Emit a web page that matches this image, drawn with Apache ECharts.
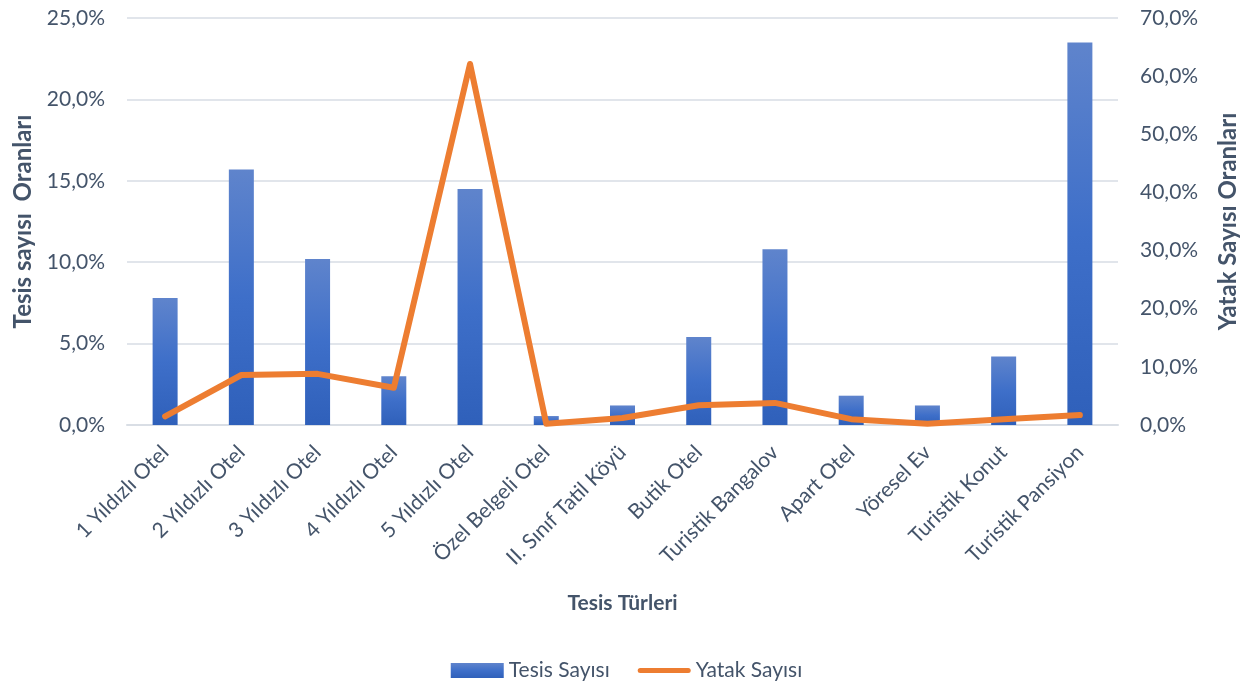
<!DOCTYPE html>
<html><head><meta charset="utf-8">
<script src="https://cdn.jsdelivr.net/npm/echarts@6/dist/echarts.min.js"></script>
<style>html,body{margin:0;padding:0;background:#fff}#c{width:1253px;height:688px}</style>
</head><body><div id="c"></div>
<script>
const categories = ['1 Yıldızlı Otel','2 Yıldızlı Otel','3 Yıldızlı Otel','4 Yıldızlı Otel','5 Yıldızlı Otel','Özel Belgeli Otel','II. Sınıf Tatil Köyü','Butik Otel','Turistik Bangalov','Apart Otel','Yöresel Ev','Turistik Konut','Turistik Pansiyon'];
const tesisSayisi = [7.8, 15.7, 10.2, 3.0, 14.5, 0.55, 1.2, 5.4, 10.8, 1.8, 1.2, 4.2, 23.5];
const yatakSayisi = [1.5, 8.6, 8.8, 6.4, 62.1, 0.2, 1.2, 3.4, 3.8, 1.0, 0.2, 1.0, 1.7];
const leftTicks = {min: 0, max: 25, interval: 5};
const rightTicks = {min: 0, max: 70, interval: 10};

const txt = '#44546A';
const font = "Lato, 'Open Sans', sans-serif";
const fmt = v => v.toFixed(1).replace('.', ',') + '%';
const chart = echarts.init(document.getElementById('c'));
chart.setOption({
  animation: false,
  textStyle: {fontFamily: font},
  grid: {left: 127, right: 135, top: 18, bottom: 263},
  legend: {
    bottom: 2, left: 'center', itemWidth: 53, itemHeight: 15, itemGap: 28,
    textStyle: {color: txt, fontSize: 21, fontFamily: font},
    data: [
      {name: 'Tesis Sayısı', icon: 'rect'},
      {name: 'Yatak Sayısı', icon: 'path://M2.5,0 L50.5,0 A2.5,2.5 0 0 1 50.5,5 L2.5,5 A2.5,2.5 0 0 1 2.5,0 Z'}
    ]
  },
  xAxis: {
    type: 'category', data: categories,
    axisTick: {show: false},
    axisLine: {lineStyle: {color: '#D9DEE5', width: 2}},
    axisLabel: {rotate: 45, color: txt, fontSize: 21, margin: 24, interval: 0},
    name: 'Tesis Türleri', nameLocation: 'middle', nameGap: 168,
    nameTextStyle: {color: txt, fontSize: 21, fontWeight: 'bold'}
  },
  yAxis: [{
    type: 'value', min: leftTicks.min, max: leftTicks.max, interval: leftTicks.interval,
    axisLine: {show: false}, axisTick: {show: false},
    splitLine: {lineStyle: {color: '#E1E5EB', width: 2}},
    axisLabel: {formatter: fmt, color: txt, fontSize: 21, margin: 22},
    name: 'Tesis sayısı  Oranları', nameLocation: 'middle', nameGap: 92, nameRotate: 90,
    nameTextStyle: {color: txt, fontSize: 24, fontWeight: 'bold'}
  }, {
    type: 'value', min: rightTicks.min, max: rightTicks.max, interval: rightTicks.interval,
    axisLine: {show: false}, axisTick: {show: false},
    splitLine: {show: false},
    axisLabel: {formatter: fmt, color: txt, fontSize: 21, margin: 22},
    name: 'Yatak Sayısı Oranları', nameLocation: 'middle', nameGap: 98, nameRotate: 90,
    nameTextStyle: {color: txt, fontSize: 24, fontWeight: 'bold'}
  }],
  series: [{
    name: 'Tesis Sayısı', type: 'bar', data: tesisSayisi, yAxisIndex: 0, barWidth: 25,
    itemStyle: {color: new echarts.graphic.LinearGradient(0, 0, 0, 1, [
      {offset: 0, color: '#5F84CC'}, {offset: 0.5, color: '#3E6FC9'}, {offset: 1, color: '#2F60BA'}])}
  }, {
    name: 'Yatak Sayısı', type: 'line', data: yatakSayisi, yAxisIndex: 1,
    showSymbol: false, symbol: 'none',
    lineStyle: {color: '#ED7D31', width: 6, cap: 'round', join: 'round'},
    itemStyle: {color: '#ED7D31'}
  }]
});
</script></body></html>
